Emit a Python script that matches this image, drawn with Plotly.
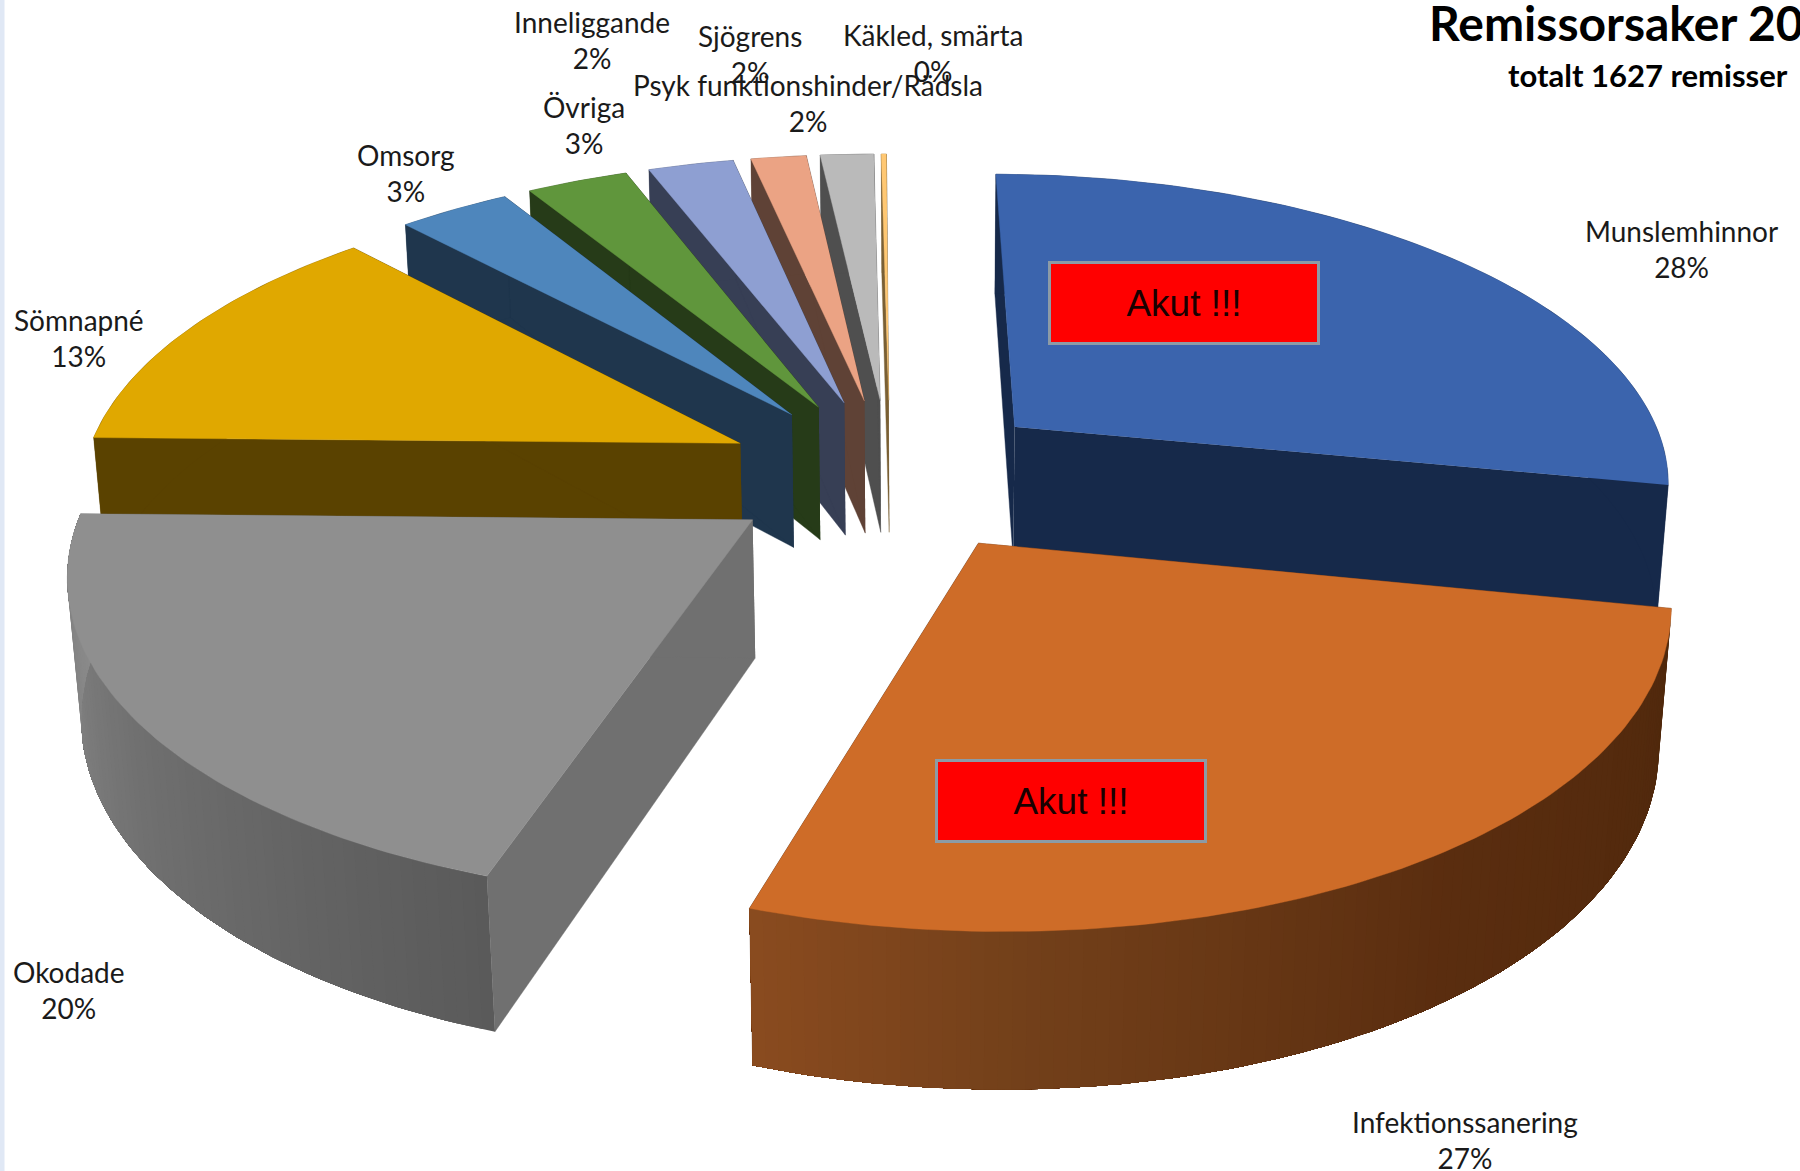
import numpy as np
import plotly.graph_objects as go

# ---- data ----
categories = ["Munslemhinnor", "Infektionssanering", "Okodade", "Sömnapné", "Omsorg", "Övriga",
              "Inneliggande", "Psyk funktionshinder/Rädsla", "Sjögrens", "Käkled, smärta"]
values = [28, 27, 20.2, 12.8, 3.25, 2.95, 2.49, 1.61, 1.55, 0.15]
title_text = "Remissorsaker 20"
subtitle_text = "totalt 1627 remisser"

# ---- styles ----
top_colors = ["#3B64AD", "#CE6C28", "#8F8F8F", "#E0A800", "#4E86BC", "#60963C", "#8E9FD2", "#EBA384", "#BABABA", "#FFC873"]
side_colors = ["#16294A", "#552A0E", "#707070", "#5A4200", "#1F364D", "#263B18", "#373F55", "#5F4236", "#4F4F4F", "#7A6035"]
wall_stops = {1: [(0.0, "#4F280C"), (0.45, "#5A2D0F"), (0.8, "#73401A"), (1.0, "#8A4B1F")],
              2: [(0.0, "#5A5A5A"), (0.5, "#707070"), (1.0, "#8C8C8C")]}
label_pos = {0: (1465, 217), 1: (1276, 993), 2: (60, 862), 3: (69, 294), 4: (354, 151), 5: (509, 109),
             6: (516, 35), 7: (704, 90), 8: (653, 47), 9: (813, 46)}
draw_order = [9, 8, 7, 6, 5, 4, 3, 2, 0, 1]

# fitted projection of the tilted pie onto the picture
CAM = [581.673239, 64.040067, -12.639255, 775.46309, -16.629096, -201.481397, -126.800601,
       413.158199, 0.013936, 0.15322, -0.015759]
EXPLODE = 0.252258
ROT = 0.09118
W, H = 1568, 1020


def proj(X, Y, Z):
    p = CAM
    w = 1 + p[8] * X + p[9] * Y + p[10] * Z
    return (p[0] * X + p[1] * Y + p[2] * Z + p[3]) / w, (p[4] * X + p[5] * Y + p[6] * Z + p[7]) / w


def hex2rgb(c):
    return np.array([int(c[i:i + 2], 16) for i in (1, 3, 5)], float)


def stop_color(stops, u):
    xs = [s[0] for s in stops]
    cs = np.array([hex2rgb(s[1]) for s in stops])
    r = [np.interp(u, xs, cs[:, k]) for k in range(3)]
    return "rgb(%d,%d,%d)" % tuple(int(round(v)) for v in r)


def poly(fig, x, y, color, lw=0.4):
    fig.add_trace(go.Scatter(x=list(x), y=list(y), mode="lines", fill="toself", fillcolor=color,
                             line=dict(color=color, width=lw), hoverinfo="skip", showlegend=False))


fig = go.Figure()
edges = np.cumsum([0] + values) / sum(values) * 2 * np.pi + ROT
for i in draw_order:
    a0, a1 = edges[i], edges[i + 1]
    mid = (a0 + a1) / 2
    ox, oy = EXPLODE * np.sin(mid), EXPLODE * np.cos(mid)
    n = max(3, int(np.degrees(a1 - a0) / 1.0))
    ts = np.linspace(a0, a1, n + 1)
    RX, RY = ox + np.sin(ts), oy + np.cos(ts)
    # cut faces
    for t in (a0, a1):
        ex, ey = ox + np.sin(t), oy + np.cos(t)
        xs, ys = zip(*[proj(ox, oy, 0), proj(ex, ey, 0), proj(ex, ey, -1), proj(ox, oy, -1)])
        poly(fig, xs, ys, side_colors[i])
    # outer wall: each strip reaches to the far end of the wall and the next one paints over it,
    # which leaves no seams between the shades
    if i in wall_stops:
        for k in range(n):
            c = stop_color(wall_stops[i], (k + 0.5) / n)
            tX, tY = proj(RX[k:], RY[k:], 0)
            bX, bY = proj(RX[k:], RY[k:], -1)
            poly(fig, np.r_[tX, bX[::-1]], np.r_[tY, bY[::-1]], c, lw=0)
    else:
        tX, tY = proj(RX, RY, 0)
        bX, bY = proj(RX, RY, -1)
        poly(fig, np.r_[tX, bX[::-1]], np.r_[tY, bY[::-1]], side_colors[i])
    # top face
    tx, ty = proj(np.r_[ox, RX], np.r_[oy, RY], 0)
    poly(fig, tx, ty, top_colors[i])

LABEL = dict(family="Lato, Carlito, sans-serif", size=28, color="#1a1a1a")
anns = []
for i, name in enumerate(categories):
    x, y = label_pos[i]
    anns.append(dict(x=x, y=y, xref="x", yref="y", text=f"{name}<br>{round(values[i])}%", showarrow=False,
                     font=LABEL, align="center", xanchor="center", yanchor="middle"))
anns.append(dict(x=1243, y=20, xref="x", yref="y", text=f"<b>{title_text}</b>", showarrow=False,
                 xanchor="left", yanchor="middle", font=dict(family="Lato, sans-serif", size=48, color="black")))
anns.append(dict(x=1436, y=65, xref="x", yref="y", text=f"<b>{subtitle_text}</b>", showarrow=False,
                 xanchor="center", yanchor="middle", font=dict(family="Lato, sans-serif", size=31, color="black")))
for cx, cy in [(1031, 264), (933, 698)]:
    anns.append(dict(x=cx, y=cy, xref="x", yref="y", text="Akut !!!", showarrow=False, width=266, height=78,
                     bgcolor="#FF0000", bordercolor="#8C9BA6", borderwidth=3, borderpad=0,
                     font=dict(family="Liberation Sans, Arial", size=37, color="#1a0000"),
                     xanchor="center", yanchor="middle", align="center", valign="middle"))

fig.update_layout(
    width=1800, height=1171, margin=dict(l=0, r=0, t=0, b=0), autosize=False,
    paper_bgcolor="white", plot_bgcolor="white", showlegend=False, annotations=anns,
    xaxis=dict(range=[0, W], visible=False, fixedrange=True),
    yaxis=dict(range=[H, 0], visible=False, fixedrange=True),
    shapes=[dict(type="rect", xref="paper", yref="paper", x0=0, x1=4.5 / 1800, y0=0, y1=1,
                 fillcolor="#E0E8F5", line=dict(width=0), layer="above")],
)
fig.write_html("out.html", config={"displayModeBar": False},
               post_script="document.body.style.margin='0';document.body.style.overflow='hidden';")
